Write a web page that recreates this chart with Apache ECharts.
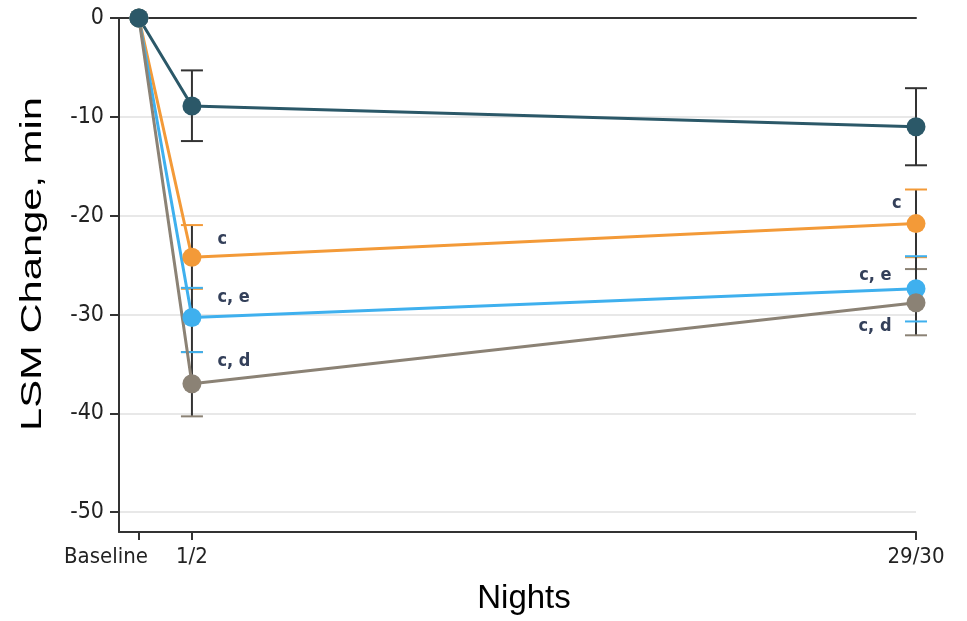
<!DOCTYPE html>
<html>
<head>
<meta charset="utf-8">
<script src="https://cdn.jsdelivr.net/npm/echarts@6/dist/echarts.min.js"></script>
<style>
  html, body { margin: 0; padding: 0; background: #ffffff; }
  #chart { width: 967px; height: 621px; }
</style>
</head>
<body>
<div id="chart"></div>
<script>
// Night positions on the time axis and their tick labels
var nightLabels = ['Baseline', '1/2', '29/30'];
var nightPos = [0, 2, 29.3];

// Mean change in latency to sustained sleep (min) per group
var darkMean = [0, -8.9, -11.0];
var darkLow = [null, -12.45, -14.9];
var darkHigh = [null, -5.3, -7.1];

var orangeMean = [0, -24.2, -20.8];
var orangeLow = [null, -27.4, -24.2];
var orangeHigh = [null, -20.95, -17.35];

var blueMean = [0, -30.3, -27.4];
var blueLow = [null, -33.8, -30.7];
var blueHigh = [null, -27.3, -24.1];

var grayMean = [0, -37.0, -28.8];
var grayLow = [null, -40.3, -32.1];
var grayHigh = [null, -33.8, -25.4];

// Significance tags written next to the points
var orangeTags = ['', 'c', 'c'];
var blueTags = ['', 'c, e', 'c, e'];
var grayTags = ['', 'c, d', 'c, d'];

var yTicks = [0, -10, -20, -30, -40, -50];

var COLORS = {
  dark: '#2b5868',
  orange: '#f39a38',
  blue: '#3fb0ee',
  gray: '#8b8275'
};
var tickFont = "'DejaVu Sans Condensed', 'DejaVu Sans', 'Liberation Sans', sans-serif";

// label placement per point index: [position, offset]
var tagPlacement = {
  orange: [null, ['right', [11, -18]], ['left', [0, -20]]],
  blue:   [null, ['right', [11, -20]], ['left', [-10, -14]]],
  gray:   [null, ['right', [11, -22]], ['left', [-10, 24]]]
};

function lineData(mean, tags, placement) {
  return mean.map(function (v, i) {
    var item = { value: [nightPos[i], v] };
    if (tags && tags[i]) {
      item.label = {
        show: true,
        formatter: tags[i],
        position: placement[i][0],
        offset: placement[i][1],
        color: '#34405a',
        fontSize: 18,
        fontWeight: 'bold',
        fontFamily: tickFont
      };
    }
    return item;
  });
}

function errData(low, high) {
  var out = [];
  for (var i = 0; i < nightPos.length; i++) {
    if (low[i] != null) out.push([nightPos[i], low[i], high[i]]);
  }
  return out;
}

function errSeries(name, low, high, capColor) {
  return {
    type: 'custom',
    name: name + ' CI',
    z: 1,
    silent: true,
    data: errData(low, high),
    renderItem: function (params, api) {
      var x = api.coord([api.value(0), 0])[0];
      var yLo = api.coord([0, api.value(1)])[1];
      var yHi = api.coord([0, api.value(2)])[1];
      var hw = 11;
      return {
        type: 'group',
        children: [
          { type: 'line', shape: { x1: x, y1: yHi, x2: x, y2: yLo },
            style: { stroke: '#333333', lineWidth: 2 } },
          { type: 'line', shape: { x1: x - hw, y1: yHi, x2: x + hw, y2: yHi },
            style: { stroke: capColor, lineWidth: 2 } },
          { type: 'line', shape: { x1: x - hw, y1: yLo, x2: x + hw, y2: yLo },
            style: { stroke: capColor, lineWidth: 2 } }
        ]
      };
    }
  };
}

function lineSeries(name, mean, color, tags, placement) {
  return {
    type: 'line',
    name: name,
    z: 3,
    data: lineData(mean, tags, placement),
    symbol: 'circle',
    symbolSize: 19,
    itemStyle: { color: color },
    lineStyle: { color: color, width: 3 },
    label: { show: false },
    emphasis: { disabled: true }
  };
}

var chart = echarts.init(document.getElementById('chart'), null, { renderer: 'canvas' });

chart.setOption({
  animation: false,
  backgroundColor: '#ffffff',
  grid: { left: 119, right: 51, top: 18, bottom: 89, containLabel: false },
  xAxis: [{
    type: 'value',
    min: -0.75,
    max: 29.3,
    position: 'bottom',
    name: 'Nights',
    nameLocation: 'middle',
    nameGap: 50,
    nameTextStyle: {
      fontFamily: "'Liberation Sans', Arial, sans-serif",
      fontSize: 33,
      color: '#000000',
      padding: [0, 0, 0, 13]
    },
    axisLine: { show: true, onZero: false, lineStyle: { color: '#333333', width: 2 } },
    axisTick: {
      show: true, length: 8, inside: false,
      customValues: nightPos,
      lineStyle: { color: '#333333', width: 2 }
    },
    axisLabel: {
      customValues: nightPos,
      showMinLabel: true,
      showMaxLabel: true,
      margin: 14,
      fontFamily: tickFont,
      fontSize: 22,
      color: '#222222',
      formatter: function (v) {
        var i = nightPos.indexOf(v);
        if (i === 0) return '{base|' + nightLabels[0] + '}';
        return i >= 0 ? nightLabels[i] : '';
      },
      rich: {
        // the first label sits to the left of its tick
        base: {
          width: 18,
          align: 'right',
          fontFamily: tickFont,
          fontSize: 22,
          color: '#222222'
        }
      }
    },
    splitLine: { show: false }
  }, {
    // zero reference line along the top of the plot
    type: 'value',
    min: -0.75,
    max: 29.3,
    position: 'top',
    axisLine: { show: true, onZero: false, lineStyle: { color: '#333333', width: 2 } },
    axisTick: { show: false },
    axisLabel: { show: false },
    splitLine: { show: false }
  }],
  yAxis: {
    type: 'value',
    min: -52,
    max: 0,
    axisLine: { show: true, onZero: false, lineStyle: { color: '#333333', width: 2 } },
    axisTick: {
      show: true, length: 9,
      customValues: yTicks,
      lineStyle: { color: '#333333', width: 2 }
    },
    axisLabel: {
      customValues: yTicks,
      margin: 15,
      fontFamily: tickFont,
      fontSize: 23,
      color: '#222222'
    },
    splitLine: { show: true, lineStyle: { color: '#e0e0e0', width: 1.5 } }
  },
  graphic: [{
    type: 'text',
    x: 33,
    y: 264,
    rotation: Math.PI / 2,
    scaleX: 1.39,
    style: {
      text: 'LSM Change, min',
      x: 0,
      y: 0,
      align: 'center',
      verticalAlign: 'middle',
      font: "30px 'Liberation Sans', Arial, sans-serif",
      fill: '#000000'
    }
  }],
  series: [
    errSeries('orange', orangeLow, orangeHigh, COLORS.orange),
    errSeries('gray', grayLow, grayHigh, COLORS.gray),
    errSeries('blue', blueLow, blueHigh, COLORS.blue),
    errSeries('dark', darkLow, darkHigh, '#333333'),
    lineSeries('orange', orangeMean, COLORS.orange, orangeTags, tagPlacement.orange),
    lineSeries('blue', blueMean, COLORS.blue, blueTags, tagPlacement.blue),
    lineSeries('gray', grayMean, COLORS.gray, grayTags, tagPlacement.gray),
    lineSeries('dark', darkMean, COLORS.dark, null, null)
  ]
});
</script>
</body>
</html>
